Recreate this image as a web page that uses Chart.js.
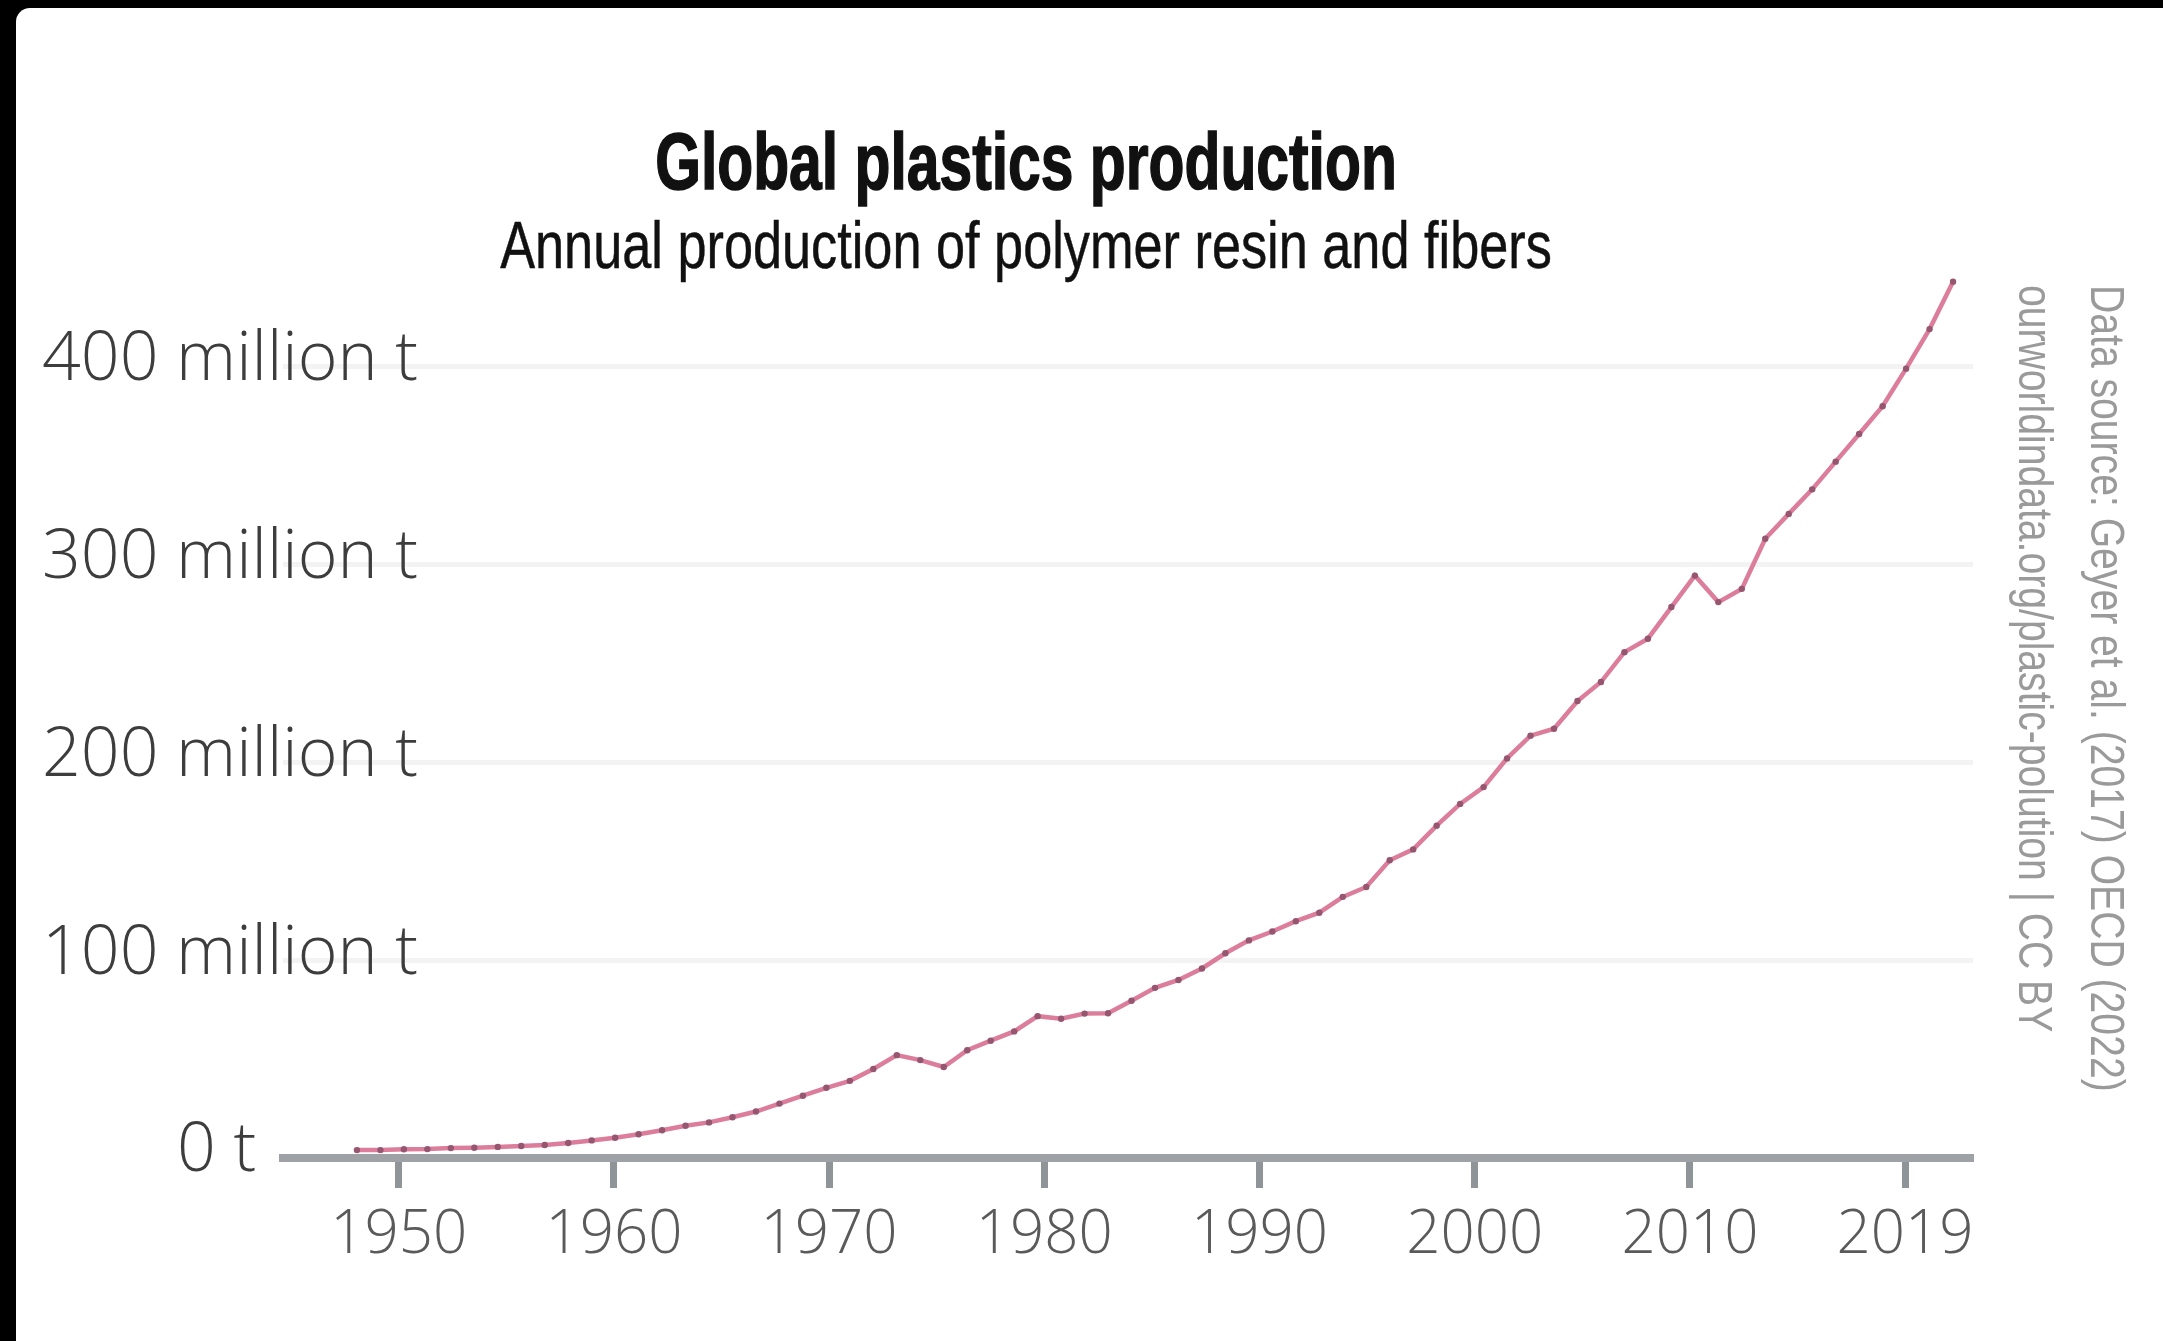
<!DOCTYPE html>
<html>
<head>
<meta charset="utf-8">
<title>Global plastics production</title>
<script src="https://cdn.jsdelivr.net/npm/chart.js@4.4.1/dist/chart.umd.min.js"></script>
<style>
  html, body { margin: 0; padding: 0; background: #000; width: 2163px; height: 1341px; overflow: hidden; }
  #panel { position: absolute; left: 16px; top: 8px; width: 2147px; height: 1333px; background: #fff; border-top-left-radius: 14px; overflow: hidden; }
  #wrap { position: absolute; left: 0; top: 0; width: 2147px; height: 1333px; }
  .head { position: absolute; left: 0; width: 2020px; text-align: center; white-space: nowrap; color: #111;
          font-family: "Liberation Sans", sans-serif; line-height: 1; transform-origin: 50% 50%; }
  #title { top: 114px; font-size: 80px; font-weight: bold; transform: scaleX(0.735); -webkit-text-stroke: 1.5px #111; }
  #subtitle { top: 203px; font-size: 67px; transform: scaleX(0.78); -webkit-text-stroke: 0.5px #111; }
  #source { position: absolute; right: 20px; top: 277px; writing-mode: vertical-rl; white-space: nowrap;
            font-family: "Liberation Sans", sans-serif; font-size: 48px; line-height: 72px; color: #9a9a9a;
            transform: scaleY(0.815); transform-origin: 50% 0; }
</style>
</head>
<body>
<div id="panel">
  <div id="wrap"><canvas id="myChart"></canvas></div>
  <div id="title" class="head">Global plastics production</div>
  <div id="subtitle" class="head">Annual production of polymer resin and fibers</div>
  <div id="source">Data source: Geyer et al. (2017) OECD (2022)<br>ourworldindata.org/plastic-polution | CC BY</div>
</div>
<script>
// values, million tonnes per year
const years = [
  1951, 1952, 1953, 1954, 1955, 1956, 1957, 1958, 1959, 1960,
  1961, 1962, 1963, 1964, 1965, 1966, 1967, 1968, 1969, 1970,
  1971, 1972, 1973, 1974, 1975, 1976, 1977, 1978, 1979, 1980,
  1981, 1982, 1983, 1984, 1985, 1986, 1987, 1988, 1989, 1990,
  1991, 1992, 1993, 1994, 1995, 1996, 1997, 1998, 1999, 2000,
  2001, 2002, 2003, 2004, 2005, 2006, 2007, 2008, 2009, 2010,
  2011, 2012, 2013, 2014, 2015, 2016, 2017, 2018, 2019
];
const production = [
  4, 4, 4.4, 4.5, 5, 5.2, 5.6, 6.1, 6.6, 7.6,
  8.9, 10.2, 12, 14, 16.3, 18, 20.6, 23.5, 27.5, 31.5,
  35.5, 39, 45, 52, 49.5, 46, 54.5, 59.3, 64, 71.7,
  70.4, 73, 73.2, 79.5, 86, 90, 95.8, 103.5, 110, 114.5,
  119.7, 124, 132, 137, 150.5, 156, 168, 179, 187.5, 202,
  213.5, 217, 231, 240.6, 255.7, 262.5, 278.5, 294.4, 281, 287.7,
  313, 325.6, 338, 352, 366, 380, 399, 419, 443
];
const xTickLabels = ['1950', '1960', '1970', '1980', '1990', '2000', '2010', '2019'];
const yTickValues = [100, 200, 300, 400];
const yTickLabels = ['100 million t', '200 million t', '300 million t', '400 million t'];
const zeroLabel = '0 t';

const ctx = document.getElementById('myChart').getContext('2d');

const labelFont = { family: 'Open Sans', weight: 300, size: 68 };

const data = {
  datasets: [{
    label: 'Plastics production',
    data: years.map((y, i) => ({ x: y, y: production[i] })),
    xAxisID: 'x',
    yAxisID: 'y',
    borderColor: '#dc7d9b',
    borderWidth: 4.5,
    pointRadius: 3.2,
    pointBorderWidth: 0,
    pointBackgroundColor: '#975670',
    tension: 0,
  }],
};

const config = {
  type: 'line',
  data: data,
  options: {
    responsive: true,
    maintainAspectRatio: false,
    animation: false,
    layout: { padding: { left: 26, right: 190, top: 240, bottom: 0 } },
    plugins: {
      legend: { display: false },
      tooltip: { enabled: false },
    },
    scales: {
      x: {
        type: 'linear',
        display: false,
        min: 1947.85,
        max: 2019.85,
      },
      xt: {
        type: 'linear',
        position: 'bottom',
        min: -0.5377,
        max: 7.3155,
        afterBuildTicks: (axis) => { axis.ticks = xTickLabels.map((_, i) => ({ value: i })); },
        afterFit: (axis) => { axis.height = 183; },
        border: { display: true, color: '#9ea2a6', width: 8 },
        grid: { drawOnChartArea: false, drawTicks: true, tickLength: 30, tickWidth: 7, tickColor: '#8f9498' },
        ticks: {
          padding: 12,
          maxRotation: 0,
          autoSkip: false,
          color: '#5a5a5a',
          font: { family: 'Open Sans', weight: 300, size: 60 },
          callback: (v, i) => xTickLabels[i],
        },
      },
      y: {
        position: 'left',
        weight: 0,
        min: 0,
        max: 460,
        afterBuildTicks: (axis) => { axis.ticks = [0].concat(yTickValues).map(v => ({ value: v })); },
        afterFit: (axis) => { axis.width = 241; },
        border: { display: false },
        grid: { color: '#f3f3f3', lineWidth: 5, drawTicks: false },
        ticks: {
          mirror: true,
          crossAlign: 'near',
          padding: -241,
          labelOffset: -6,
          color: '#3d3d3d',
          font: labelFont,
          callback: (v, i) => (i === 0 ? '' : yTickLabels[i - 1]),
        },
      },
      // the "0 t" label sits next to the start of the axis line
      y0: {
        position: 'left',
        weight: 1,
        min: 0,
        max: 460,
        afterBuildTicks: (axis) => { axis.ticks = [{ value: 0 }]; },
        afterFit: (axis) => { axis.width = 0; },
        border: { display: false },
        grid: { display: false },
        ticks: {
          mirror: true,
          crossAlign: 'near',
          padding: 135,
          labelOffset: -6,
          color: '#3d3d3d',
          font: labelFont,
          callback: () => zeroLabel,
        },
      },
    },
  },
};
const myChart = new Chart(ctx, config);
</script>
</body>
</html>
